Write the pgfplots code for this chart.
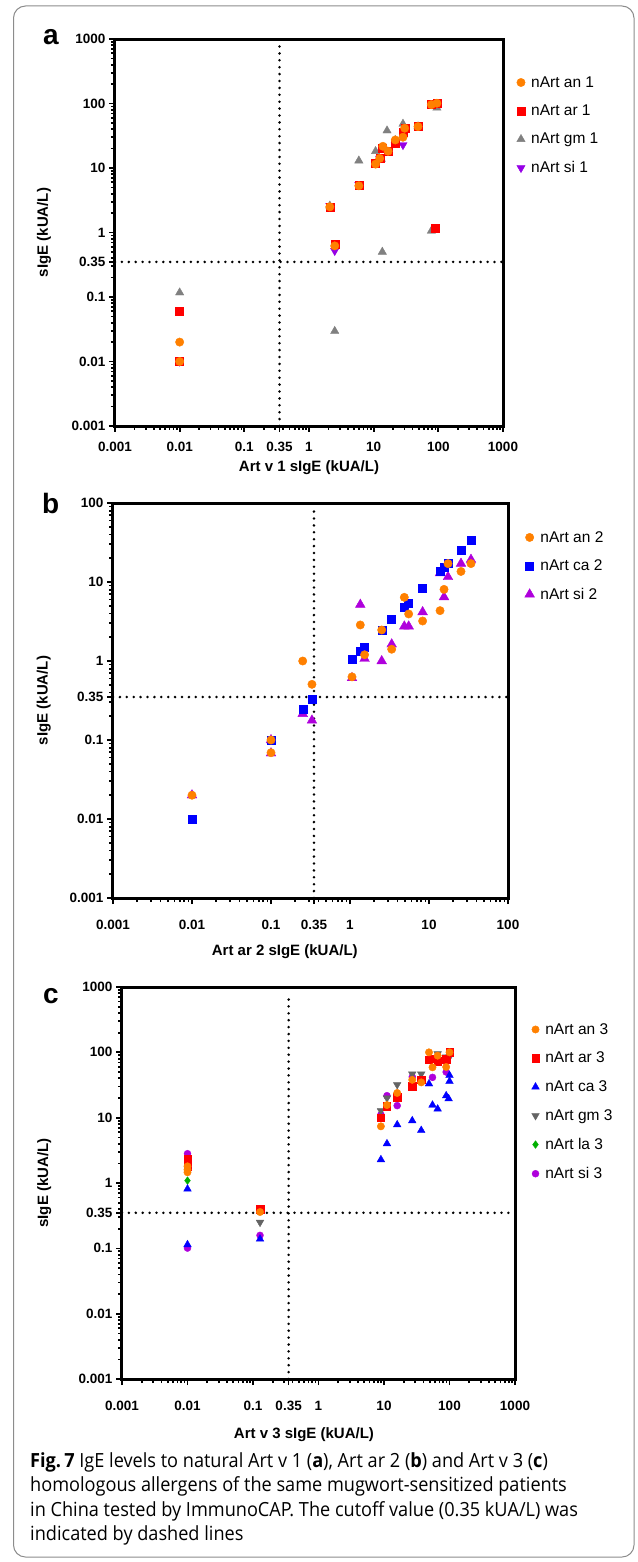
\documentclass[border=0pt]{standalone}
\usepackage{fontspec}
\setmainfont{Liberation Sans}
\newfontfamily\capfont[FakeStretch=0.93]{Open Sans}
\usepackage{pgfplots}
\pgfplotsset{compat=1.18}

\definecolor{cOr}{RGB}{255,128,0}
\definecolor{cRed}{RGB}{255,0,0}
\definecolor{cGray}{RGB}{128,128,128}
\definecolor{cPurA}{RGB}{150,0,230}
\definecolor{cPur}{RGB}{175,0,220}
\definecolor{cBlue}{RGB}{0,0,255}
\definecolor{cDGray}{RGB}{100,100,100}
\definecolor{cGreen}{RGB}{0,175,0}

\pgfplotsset{
  every axis/.append style={
  scale only axis,
  tick align=outside, tick pos=left,
  axis background/.style={draw=black, line width=2.6pt},
  major tick length=6pt, minor tick length=4pt,
  every tick/.style={line width=1.7pt, black},
  major tick style={line width=1.7pt, black},
  minor tick style={line width=1.7pt, black},
  minor xtick={0.002,0.003,0.004,0.005,0.006,0.007,0.008,0.009,
   0.02,0.03,0.04,0.05,0.06,0.07,0.08,0.09,
   0.2,0.3,0.4,0.5,0.6,0.7,0.8,0.9,
   2,3,4,5,6,7,8,9,20,30,40,50,60,70,80,90,200,300,400,500,600,700,800,900},
  minor ytick={0.002,0.003,0.004,0.005,0.006,0.007,0.008,0.009,
   0.02,0.03,0.04,0.05,0.06,0.07,0.08,0.09,
   0.2,0.3,0.4,0.5,0.6,0.7,0.8,0.9,
   2,3,4,5,6,7,8,9,20,30,40,50,60,70,80,90,200,300,400,500,600,700,800,900},
  ticklabel style={font=\bfseries\fontsize{13.5}{14}\selectfont},
  label style={font=\bfseries\fontsize{15}{16}\selectfont},
  legend style={draw=none, fill=none, font=\fontsize{15.5}{16}\selectfont,
    cells={anchor=west}, anchor=north west, inner sep=0pt,
    /tikz/every odd column/.append style={column sep=4pt}},
  reverse legend, clip=false,
 },
}
\tikzset{cutline/.style={black, line width=2.8pt, dash pattern=on 0pt off 6.9pt, line cap=round},
  framebox/.style={black, line width=3pt}}

\begin{document}
\begin{tikzpicture}
\useasboundingbox (0,0) rectangle (637pt,-1562pt);
\draw[black!45, line width=1pt, rounded corners=12pt] (13.5pt,-6pt) rectangle (634pt,-1557pt);

\node[anchor=base west, inner sep=0pt, font=\bfseries\fontsize{28}{28}\selectfont] at (43pt,-45pt) {a};
\node[anchor=base west, inner sep=0pt, font=\bfseries\fontsize{28}{28}\selectfont] at (42pt,-513pt) {b};
\node[anchor=base west, inner sep=0pt, font=\bfseries\fontsize{28}{28}\selectfont] at (43pt,-1003pt) {c};

% ---------- panel a ----------
\begin{axis}[xmode=log, ymode=log, at={(115pt,-426pt)}, anchor=south west, width=388pt, height=387pt,
  axis line style={line width=2.6pt},
  xmin=0.001, xmax=1000, ymin=0.001, ymax=1000,
  xtick={0.001,0.01,0.1,0.35,1,10,100,1000},
  xticklabels={0.001,0.01,0.1,0.35,1,10,100,1000},
  ytick={0.001,0.01,0.1,0.35,1,10,100,1000},
  yticklabels={0.001,0.01,0.1,0.35,1,10,100,1000},
  xticklabel style={yshift=-6.5pt},
  xlabel={Art v 1 sIgE (kUA/L)}, ylabel={sIgE (kUA/L)},
  xlabel style={at={(axis description cs:0.5,-0.108)}, anchor=center},
  ylabel style={at={(axis description cs:-0.183,0.5)}, anchor=center},
  legend style={at={(axis description cs:1.035,0.909)}, row sep=12.2pt},
]
\addplot[cutline, forget plot] coordinates {(0.35,0.001) (0.35,800)};
\addplot[cutline, forget plot] coordinates {(0.001,0.35) (1000,0.35)};
\addplot[only marks, mark=triangle*, mark size=4.8pt, mark options={rotate=180, cPurA, draw=cPurA}] coordinates {
(0.01,0.01) (2.5,0.52) (28.4,22.8) (5.9,5.5) (2.1,2.6) (12.4,14) (95,100)};
\addlegendentry{nArt si 1}
\addplot[only marks, mark=triangle*, mark size=4.8pt, mark options={cGray, draw=cGray}] coordinates {
(0.01,0.117) (2.5,0.0296) (2.1,2.6) (5.9,13) (10.7,18.2) (13.1,13.8) (16.1,38) (28.4,48.3)
(13.6,0.5) (78,1.06) (95,85.7) (21.6,27) (48.5,44)};
\addlegendentry{nArt gm 1}
\addplot[only marks, mark=square*, mark size=4pt, mark options={cRed, draw=cRed}] coordinates {
(0.01,0.06) (0.01,0.01) (2.1,2.5) (2.5,0.65) (5.9,5.4) (10.7,11.8) (12.4,14.1) (13.6,20.5)
(16.7,18.2) (21.6,24.5) (28.4,35.8) (30.2,41) (48.5,43.9) (78,96) (95,101) (88,1.15)};
\addlegendentry{nArt ar 1}
\addplot[only marks, mark=*, mark size=4.2pt, mark options={cOr, draw=cOr}] coordinates {
(0.01,0.02) (0.01,0.01) (2.1,2.5) (2.5,0.62) (5.9,5.3) (10.7,11.5) (12.4,14.1) (13.9,21.7)
(16.7,18.2) (21.6,27.2) (28.4,30) (30.2,41.4) (48.5,43.9) (78,96) (95,101)};
\addlegendentry{nArt an 1}
\draw[framebox] (rel axis cs:0,0) rectangle (rel axis cs:1,1);
\end{axis}

% ---------- panel b ----------
\begin{axis}[xmode=log, ymode=log, at={(113pt,-898pt)}, anchor=south west, width=395pt, height=395pt,
  axis line style={line width=2.6pt},
  xmin=0.001, xmax=100, ymin=0.001, ymax=100,
  xtick={0.001,0.01,0.1,0.35,1,10,100},
  xticklabels={0.001,0.01,0.1,0.35,1,10,100},
  ytick={0.001,0.01,0.1,0.35,1,10,100},
  yticklabels={0.001,0.01,0.1,0.35,1,10,100},
  xticklabel style={yshift=-13pt},
  xlabel={Art ar 2 sIgE (kUA/L)}, ylabel={sIgE (kUA/L)},
  xlabel style={at={(axis description cs:0.435,-0.136)}, anchor=center},
  ylabel style={at={(axis description cs:-0.175,0.5)}, anchor=center},
  legend style={at={(axis description cs:1.042,0.934)}, row sep=12pt},
]
\addplot[cutline, forget plot] coordinates {(0.35,0.001) (0.35,90)};
\addplot[cutline, forget plot] coordinates {(0.001,0.35) (100,0.35)};
\addplot[only marks, mark=triangle*, mark size=5.6pt, mark options={cPur, draw=cPur}] coordinates {
(0.01,0.02) (0.1,0.1) (0.1,0.068) (0.252,0.215) (0.33,0.177) (1.06,0.61) (1.35,5.17) (1.53,1.07)
(2.52,1.0) (3.37,1.63) (4.87,2.75) (5.53,2.75) (8.3,4.17) (13.8,13.0) (15.5,6.46) (17.4,11.6)
(25.4,17.1) (34,19.2)};
\addlegendentry{nArt si 2}
\addplot[only marks, mark=square*, mark size=4pt, mark options={cBlue, draw=cBlue}] coordinates {
(0.01,0.01) (0.1,0.1) (0.252,0.247) (0.33,0.327) (1.06,1.04) (1.35,1.33) (1.53,1.5) (2.52,2.47)
(3.37,3.34) (4.87,4.83) (5.53,5.42) (8.3,8.23) (13.8,13.6) (15.5,15.2) (17.4,17.1) (25.4,25.2) (34,33.7)};
\addlegendentry{nArt ca 2}
\addplot[only marks, mark=*, mark size=4.2pt, mark options={cOr, draw=cOr}] coordinates {
(0.01,0.02) (0.1,0.1) (0.1,0.069) (0.252,1.0) (0.33,0.507) (1.06,0.63) (1.35,2.86) (1.53,1.2)
(2.52,2.47) (3.37,1.41) (4.87,6.4) (5.53,3.94) (8.3,3.21) (13.8,4.34) (15.5,8.07) (17.4,17.1)
(25.4,13.6) (34,17.1)};
\addlegendentry{nArt an 2}
\draw[framebox] (rel axis cs:0,0) rectangle (rel axis cs:1,1);
\end{axis}

% ---------- panel c ----------
\begin{axis}[xmode=log, ymode=log, at={(122pt,-1379pt)}, anchor=south west, width=393pt, height=392pt,
  axis line style={line width=2.6pt},
  xmin=0.001, xmax=1000, ymin=0.001, ymax=1000,
  xtick={0.001,0.01,0.1,0.35,1,10,100,1000},
  xticklabels={0.001,0.01,0.1,0.35,1,10,100,1000},
  ytick={0.001,0.01,0.1,0.35,1,10,100,1000},
  yticklabels={0.001,0.01,0.1,0.35,1,10,100,1000},
  xticklabel style={yshift=-13pt},
  xlabel={Art v 3 sIgE (kUA/L)}, ylabel={sIgE (kUA/L)},
  xlabel style={at={(axis description cs:0.463,-0.143)}, anchor=center},
  ylabel style={at={(axis description cs:-0.198,0.5)}, anchor=center},
  legend style={at={(axis description cs:1.042,0.913)}, row sep=12.4pt},
]
\addplot[cutline, forget plot] coordinates {(0.35,0.001) (0.35,800)};
\addplot[cutline, forget plot] coordinates {(0.001,0.35) (1000,0.35)};
\addplot[only marks, mark=*, mark size=3.5pt, mark options={cPur, draw=cPur}] coordinates {
(0.01,2.81) (0.01,0.101) (0.128,0.158) (8.97,11.1) (11.1,21.7) (15.9,15.3) (27,42) (55,41.4) (89,50)};
\addlegendentry{nArt si 3}
\addplot[only marks, mark=diamond*, mark size=3.8pt, mark options={cGreen, draw=cGreen}] coordinates {
(0.01,1.09)};
\addlegendentry{nArt la 3}
\addplot[only marks, mark=triangle*, mark size=4.4pt, mark options={rotate=180, cDGray, draw=cDGray}] coordinates {
(0.128,0.25) (8.97,12.8) (11.1,20) (15.9,32) (27,46.6) (37,46.6) (65.9,95) (89,85) (100,85)};
\addlegendentry{nArt gm 3}
\addplot[only marks, mark=triangle*, mark size=4.4pt, mark options={cBlue, draw=cBlue}] coordinates {
(0.01,0.81) (0.01,0.114) (0.128,0.139) (8.97,2.28) (11.1,4.0) (15.9,7.8) (27,9.0) (37,6.4)
(48.6,33) (55,15.6) (65.9,13.6) (89,21.7) (100,44.5) (100,36) (97,19.5)};
\addlegendentry{nArt ca 3}
\addplot[only marks, mark=square*, mark size=3.7pt, mark options={cRed, draw=cRed}] coordinates {
(0.01,2.36) (0.01,1.76) (0.128,0.4) (8.97,10.1) (10.9,15) (15.9,20.7) (27,30.2) (37,38)
(48.6,77) (55,80) (65.9,72.8) (89,79) (100,100)};
\addlegendentry{nArt ar 3}
\addplot[only marks, mark=*, mark size=3.7pt, mark options={cOr, draw=cOr}] coordinates {
(0.01,1.8) (0.01,1.46) (0.01,1.6) (0.128,0.36) (8.97,7.37) (11.1,15.6) (15.9,23.9) (27,38)
(37,34.7) (48.6,100) (55,59) (65.9,89) (89,59.7) (100,100)};
\addlegendentry{nArt an 3}
\draw[framebox] (rel axis cs:0,0) rectangle (rel axis cs:1,1);
\end{axis}

% ---------- caption ----------
\begin{scope}[every node/.style={anchor=base west, inner sep=0pt, font=\capfont\fontsize{19.5}{24}\selectfont}]
\node at (30pt,-1467pt) {\textbf{Fig.\,7}\ IgE levels to natural Art v 1 (\textbf{a}), Art ar 2 (\textbf{b}) and Art v 3 (\textbf{c})};
\node at (30pt,-1491.5pt) {homologous allergens of the same mugwort-sensitized patients};
\node at (30pt,-1516pt) {in China tested by ImmunoCAP. The cutoff value (0.35 kUA/L) was};
\node at (30pt,-1540.5pt) {indicated by dashed lines};
\end{scope}
\end{tikzpicture}
\end{document}
